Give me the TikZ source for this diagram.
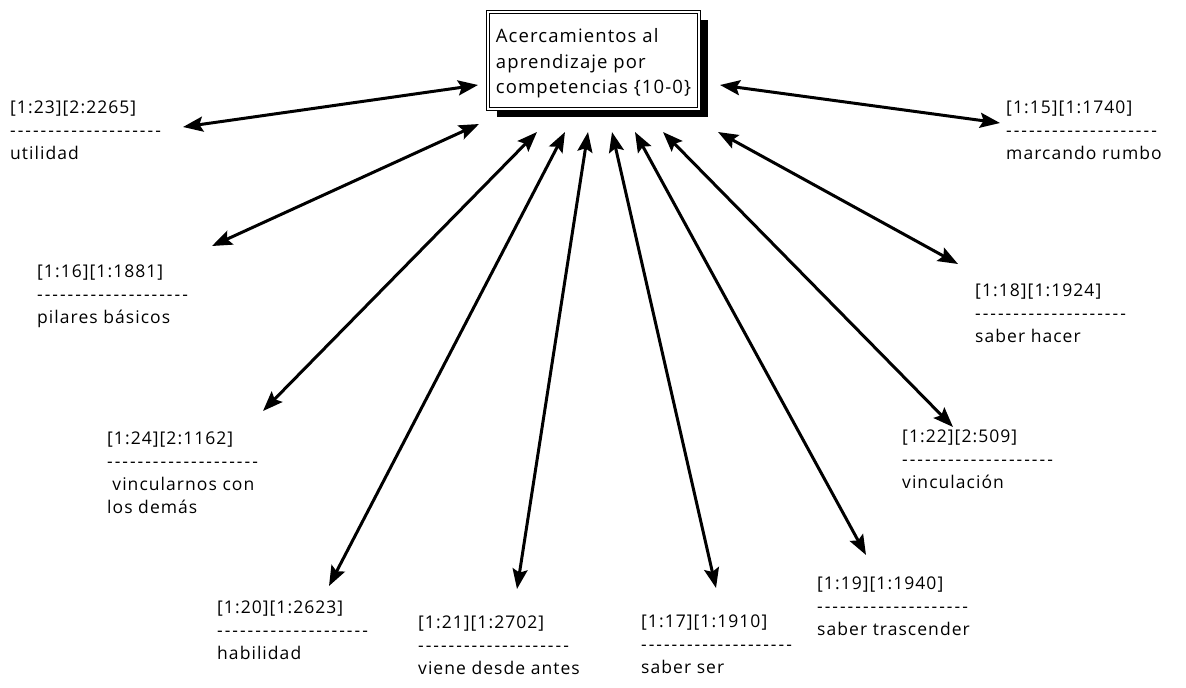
\documentclass[tikz,border=0pt]{standalone}
\usepackage{fontspec}
\setmainfont[LetterSpace=6]{Open Sans}
\usetikzlibrary{arrows.meta,shadows}
% a row of single hyphens, kept apart so that no dash ligature forms
\newcommand{\hy}{\mbox{-}\kern2pt}
\newcommand{\dashrule}{\hy\hy\hy\hy\hy\hy\hy\hy\hy\hy\hy\hy\hy\hy\hy\hy\hy\hy\hy\hy}
\begin{document}
\begin{tikzpicture}[x=1pt,y=-1pt,
  lbl/.style={anchor=base west, inner sep=0pt, align=left,
    font=\fontsize{17.5}{23}\selectfont},
  corebox/.style={draw, double, line width=0.9pt, double distance=1.4pt,
    fill=white, minimum width=211pt, minimum height=97pt, align=left,
    inner sep=0pt, font=\fontsize{18.5}{25.5}\selectfont,
    drop shadow={shadow xshift=9pt, shadow yshift=-8pt, opacity=1, fill=black}},
  link/.style={line width=3pt,
    {Stealth[length=20pt,width=15pt,inset=3.5pt]}-{Stealth[length=20pt,width=15pt,inset=3.5pt]}},
  ]
\useasboundingbox (0,0) rectangle (1186,688);

% central concept
\node[corebox] (core) at (593.5,60.5)
  {\rule{0pt}{20pt}Acercamientos al\\aprendizaje por\\competencias \{10-0\}};

% quotation labels (placed by the baseline of their last line)
\node[lbl] (q1)  at (10,159)   {[1:23][2:2265]\\\dashrule\\utilidad};
\node[lbl] (q2)  at (37,323)   {[1:16][1:1881]\\\dashrule\\pilares básicos};
\node[lbl] (q3)  at (107,513)  {[1:24][2:1162]\\\dashrule\\\hspace*{0.3em}vincularnos con\\los demás};
\node[lbl] (q4)  at (217,659)  {[1:20][1:2623]\\\dashrule\\habilidad};
\node[lbl] (q5)  at (418,674)  {[1:21][1:2702]\\\dashrule\\viene desde antes};
\node[lbl] (q6)  at (641,673)  {[1:17][1:1910]\\\dashrule\\saber ser};
\node[lbl] (q7)  at (817,635)  {[1:19][1:1940]\\\dashrule\\saber trascender};
\node[lbl] (q8)  at (902,488)  {[1:22][2:509]\\\dashrule\\vinculación};
\node[lbl] (q9)  at (975,342)  {[1:18][1:1924]\\\dashrule\\saber hacer};
\node[lbl] (q10) at (1006,159) {[1:15][1:1740]\\\dashrule\\marcando rumbo};

% arrow ends next to the central box
\coordinate (c1)  at (478,85);
\coordinate (c2)  at (479,124);
\coordinate (c3)  at (537,132);
\coordinate (c4)  at (565,132);
\coordinate (c5)  at (588,132);
\coordinate (c6)  at (612,132);
\coordinate (c7)  at (635,132);
\coordinate (c8)  at (663,132);
\coordinate (c9)  at (718,132);
\coordinate (c10) at (720,85);

% arrow ends next to the labels
\coordinate (e1)  at (183,127);
\coordinate (e2)  at (212,246);
\coordinate (e3)  at (263,411);
\coordinate (e4)  at (329,586);
\coordinate (e5)  at (517,589);
\coordinate (e6)  at (716,588);
\coordinate (e7)  at (866,555);
\coordinate (e8)  at (953,427);
\coordinate (e9)  at (958,264);
\coordinate (e10) at (1000,123);

\foreach \i in {1,...,10} {
  \draw[link] (c\i) -- (e\i);
}
\end{tikzpicture}
\end{document}
